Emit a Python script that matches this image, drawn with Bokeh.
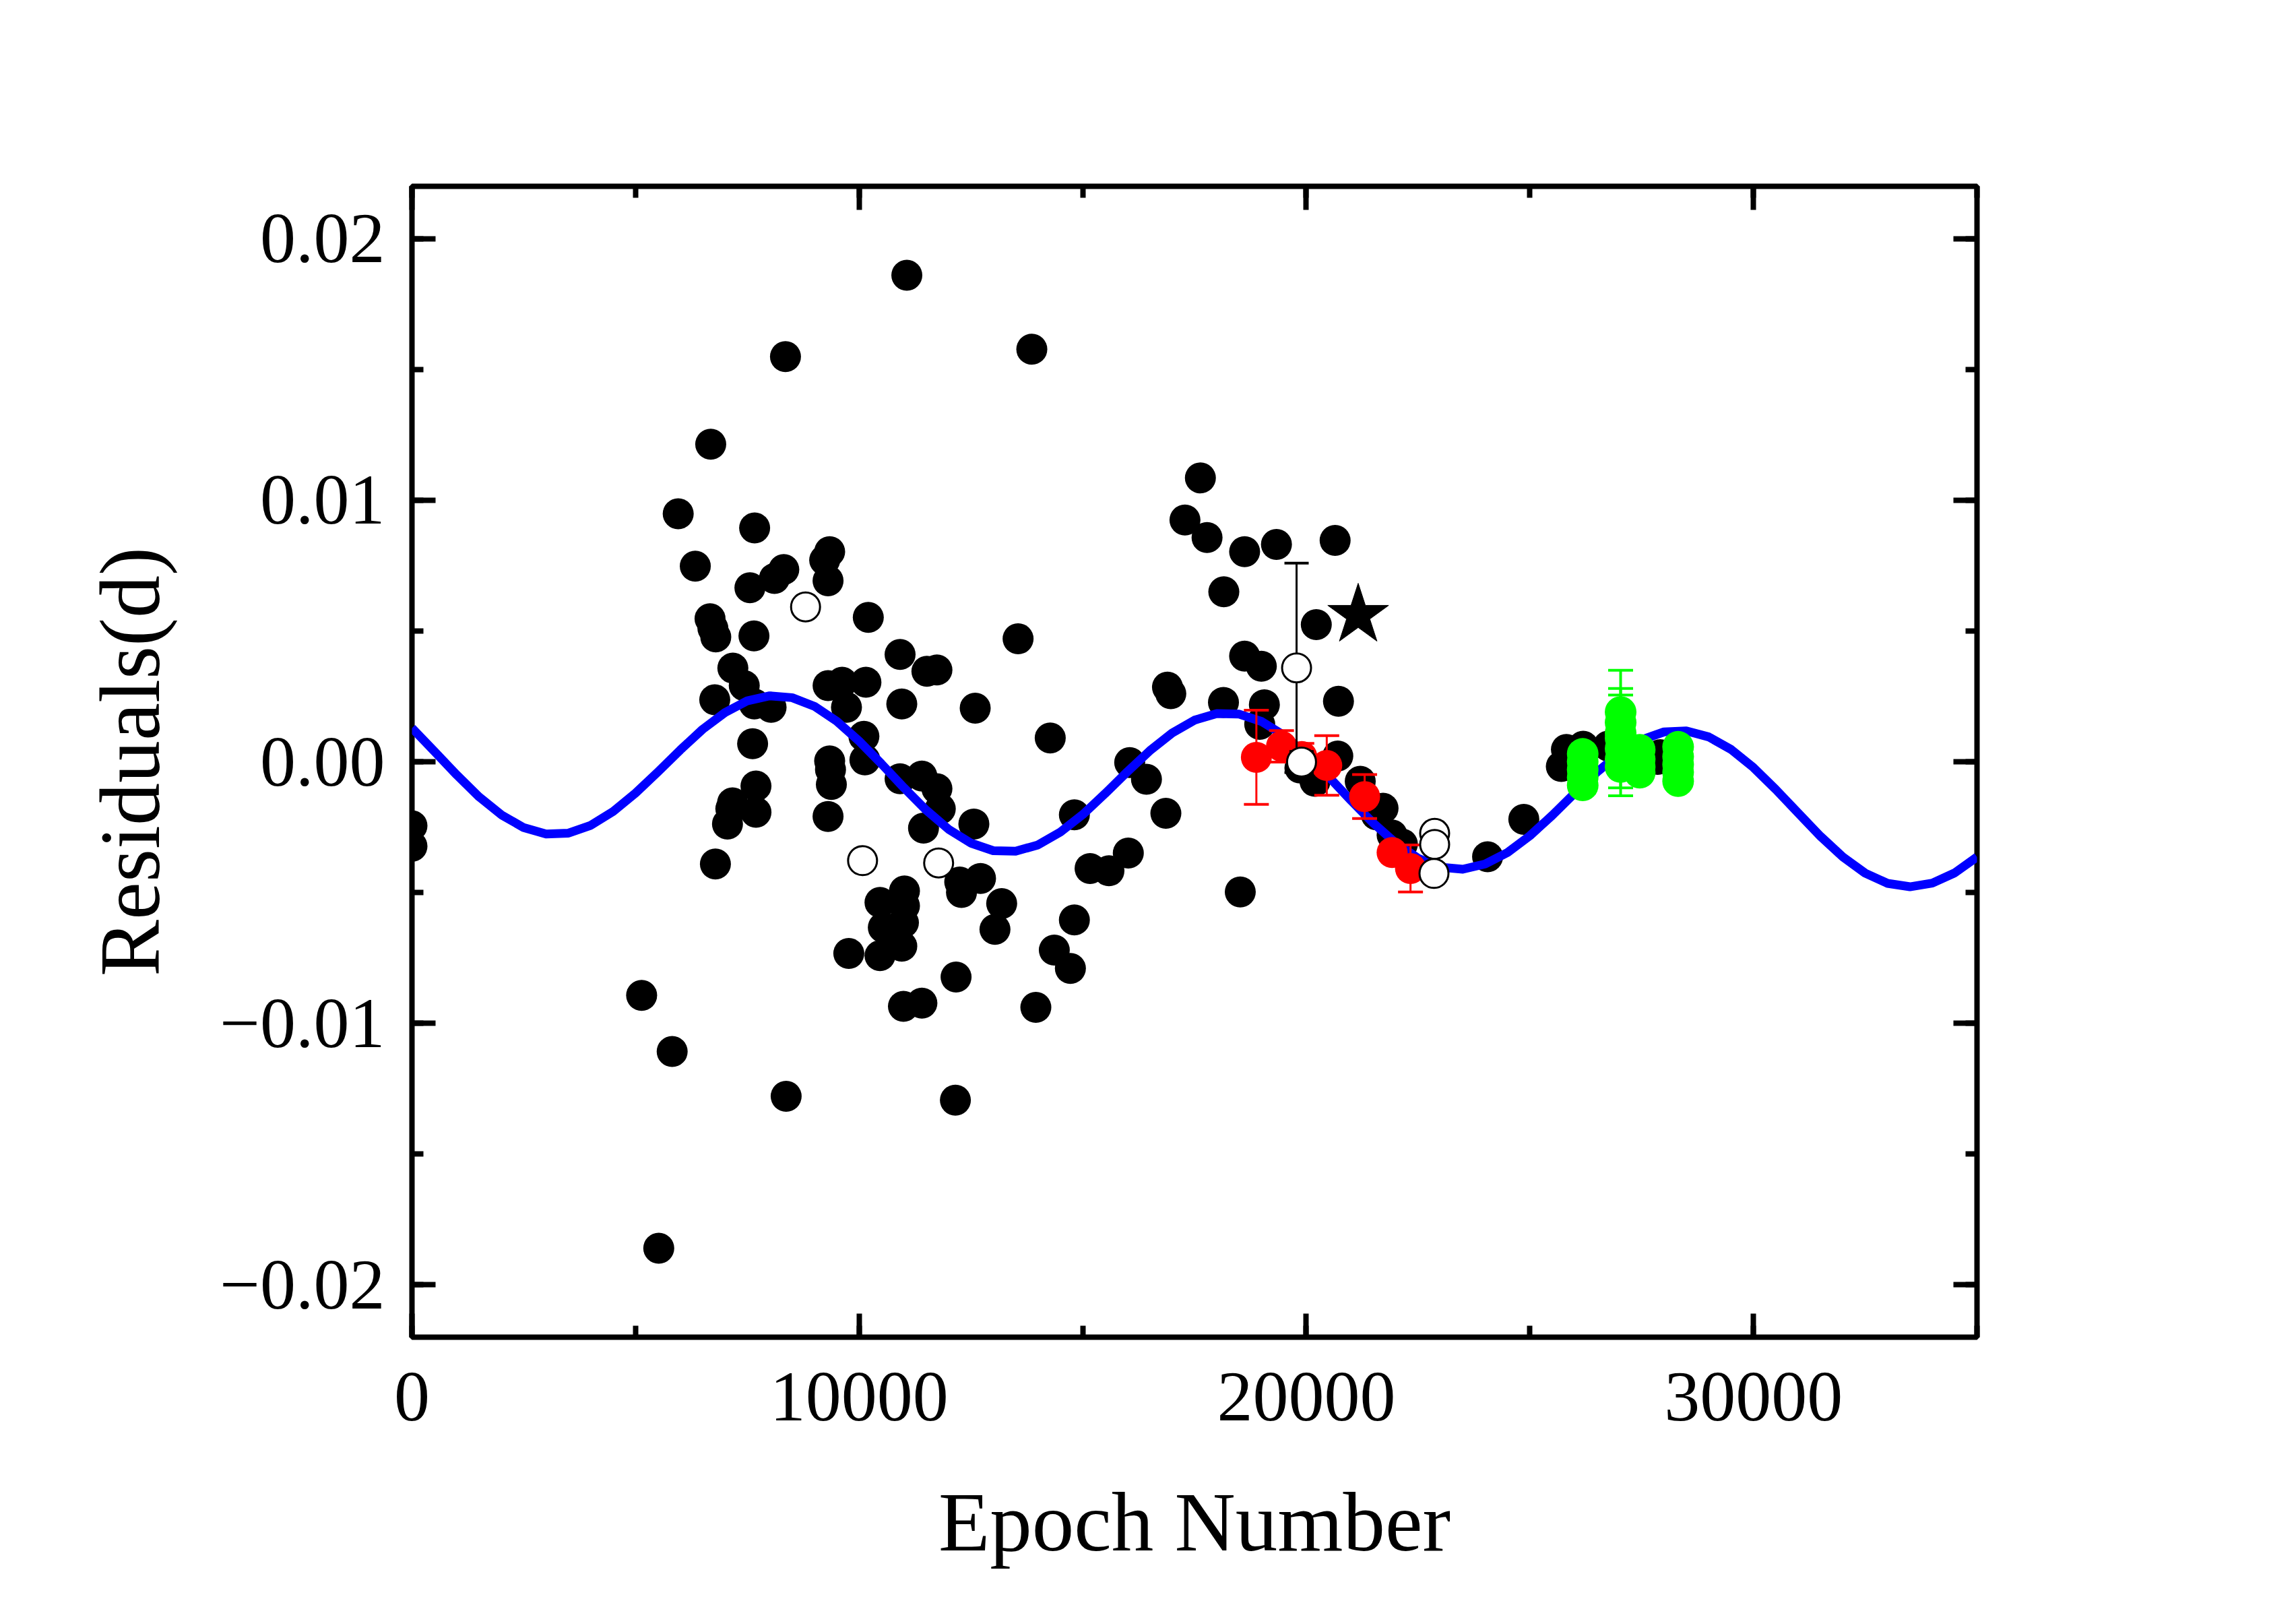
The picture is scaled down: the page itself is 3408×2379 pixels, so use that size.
from bokeh.plotting import figure
from bokeh.models import Range1d, LinearAxis, SingleIntervalTicker, CustomJSTickFormatter, BasicTickFormatter
from bokeh.embed import file_html
from bokeh.resources import INLINE

# ---------------- data ----------------
black_epoch = [0, 0, 5136, 5519, 5819, 5954, 6336, 6681, 6666, 6730, 6794, 6771, 6786,
               7176, 7431, 7169, 7131, 7056, 7558, 7663, 7648, 7656, 7618, 7693, 7693,
               8031, 8106, 8315, 8353, 8368, 9230, 9305, 9341, 9306, 9341, 9360, 9379,
               9305, 9620, 9717, 9769, 10107, 10129, 10152, 10205, 10467, 10541, 10467,
               10916, 10954, 10916, 11014, 11014, 10991, 10954, 10991, 11067, 11404,
               11440, 11404, 11516, 11740, 11740, 11815, 12168, 12153, 12250, 12289,
               12566, 12596, 12715, 13038, 13188, 13555, 13862, 13952, 14274, 14365,
               14725, 14814, 14814, 15165, 15587, 16020, 16051, 16426, 16860, 16896,
               16970, 17287, 17632, 17781, 18156, 18148, 18524, 18621, 18621, 18995,
               19063, 18959, 19333, 19858, 20195, 20224, 20645, 20720, 20705, 21207,
               21567, 21717, 21920, 22150, 24055, 24865, 25704, 25818, 26193, 26754,
               26979, 27859, 27916]
black_resid = [-0.00245, -0.00323, -0.00893, -0.0186, -0.01108, 0.00948, 0.00748, 0.01214,
               0.00547, 0.00510, 0.00477, 0.00237, -0.00391, 0.00358, 0.00291, -0.00157,
               -0.0018, -0.00238, 0.00665, 0.00894, 0.00481, 0.00221, 0.00069, -0.00093,
               -0.00193, 0.00208, 0.00701, 0.00735, 0.01549, -0.01279, 0.00771, 0.00692,
               0.00803, 0.00291, 0.00003, -0.0003, -0.00087, -0.00209, 0.00304, 0.00208,
               -0.00733, 0.00097, 0.00007, 0.00304, 0.00552, -0.00538, -0.00634, -0.00741,
               0.0041, 0.00221, -0.00065, -0.00494, -0.00551, -0.00615, -0.00705, -0.00935,
               0.0186, -0.00055, -0.00254, -0.00923, 0.00346, 0.00351, -0.00103, -0.0018,
               -0.00823, -0.01294, -0.0046, -0.0050, -0.00238, 0.00205, -0.00446, -0.00641,
               -0.00542, 0.0047, 0.01577, -0.00939, 0.00091, -0.0072, -0.0079, -0.00203,
               -0.00605, -0.00408, -0.00417, -0.00349, -0.00003, -0.00067, -0.00197,
               0.00285, 0.0026, 0.00924, 0.01085, 0.00857, 0.0065, 0.00227, -0.00498,
               0.00803, 0.00404, 0.00365, 0.00218, 0.00143, 0.00831, -0.00024, -0.00075,
               0.00524, 0.00846, 0.00231, 0.00022, -0.00075, -0.00203, -0.00178, -0.0028,
               -0.00315, -0.00363, -0.0022, -0.00018, 0.00047, 0.00059, 0.0006, 0.00072,
               0.00009, 0.00027]

red_epoch = [18884, 19446, 19900, 20458, 21305, 21920, 22331]
red_resid = [0.00017, 0.00059, 0.0002, -0.00014, -0.00133, -0.00347, -0.00408]
red_err = [0.0018, 0.0006, 0.0005, 0.00114, 0.00084, 0.0002, 0.0009]

green_epoch = [26182, 26182, 26182, 26182, 26182,
               27030, 27030, 27030, 27030, 27030, 27030, 27030,
               27457, 27457, 27457, 27457,
               28316, 28316, 28316, 28316, 28316]
green_resid = [0.0003, 0.0, -0.0003, -0.0006, -0.0009,
               0.0019, 0.0015, 0.0011, 0.0009, 0.0005, 0.0001, -0.0002,
               0.00046, 0.0001, -0.0002, -0.00042,
               0.00057, 0.0002, -0.0001, -0.0004, -0.00074]
green_err = [0, 0, 0, 0, 0,
             0.00065, 0, 0.0024, 0.0019, 0, 0, 0,
             0, 0, 0, 0,
             0, 0, 0, 0, 0]

open_epoch = [8802, 10077, 11778, 19783, 19894, 22871, 22871, 22856]
open_resid = [0.00592, -0.00378, -0.00387, 0.00359, -0.00001, -0.00274, -0.00316, -0.00427]
open_err = [0, 0, 0, 0.004, 0.0004, 0, 0, 0]

star_epoch = [21161]
star_resid = [0.0056]

fit_epoch = [0, 500, 1000, 1500, 2000, 2500, 3000, 3500, 4000, 4500, 5000, 5500, 6000,
             6500, 7000, 7500, 8000, 8500, 9000, 9500, 10000, 10500, 11000, 11500, 12000,
             12500, 13000, 13500, 14000, 14500, 15000, 15500, 16000, 16500, 17000, 17500,
             18000, 18500, 19000, 19500, 20000, 20500, 21000, 21500, 22000, 22500, 23000,
             23500, 24000, 24500, 25000, 25500, 26000, 26500, 27000, 27500, 28000, 28500,
             29000, 29500, 30000, 30500, 31000, 31500, 32000, 32500, 33000, 33500, 34000,
             34500, 35000]
fit_resid = [0.00129, 0.00040, -0.00050, -0.00134, -0.00203, -0.00252, -0.00276, -0.00273,
             -0.00243, -0.00190, -0.00120, -0.00039, 0.00045, 0.00124, 0.00188, 0.00233,
             0.00252, 0.00245, 0.00212, 0.00155, 0.00079, -0.00008, -0.00099, -0.00185,
             -0.00258, -0.00311, -0.00340, -0.00342, -0.00318, -0.00269, -0.00202, -0.00122,
             -0.00038, 0.00042, 0.00110, 0.00159, 0.00184, 0.00182, 0.00154, 0.00101,
             0.00028, -0.00057, -0.00148, -0.00235, -0.00311, -0.00369, -0.00403, -0.00411,
             -0.00391, -0.00347, -0.00283, -0.00205, -0.00121, -0.00040, 0.00031, 0.00084,
             0.00114, 0.00118, 0.00095, 0.00047, -0.00022, -0.00106, -0.00196, -0.00285,
             -0.00364, -0.00426, -0.00465, -0.00478, -0.00464, -0.00425, -0.00364]

x_major_interval = 10000
y_major_interval = 0.01
x_label = "Epoch Number"
y_label = "Residuals(d)"

# ---------------- figure ----------------
FONT = "Liberation Serif"

p = figure(width=3400, height=2371,
           x_range=Range1d(0, 35000), y_range=Range1d(-0.022, 0.022),
           x_axis_type=None, y_axis_type=None,
           output_backend="svg", toolbar_location=None,
           min_border_left=611, min_border_right=466,
           min_border_top=276, min_border_bottom=387)
p.background_fill_color = "white"
p.border_fill_color = "white"
p.outline_line_color = "black"
p.outline_line_width = 8


def style_axis(ax, show_labels):
    ax.axis_line_color = None
    ax.major_tick_in = 35
    ax.major_tick_out = 0
    ax.minor_tick_in = 17
    ax.minor_tick_out = 0
    ax.major_tick_line_width = 8
    ax.minor_tick_line_width = 8
    ax.major_tick_line_color = "black"
    ax.minor_tick_line_color = "black"
    if show_labels:
        ax.major_label_text_font = FONT
        ax.major_label_text_font_size = "106px"
        ax.major_label_text_color = "black"
        ax.axis_label_text_font = FONT
        ax.axis_label_text_font_style = "normal"
        ax.axis_label_text_color = "black"
    else:
        ax.major_label_text_color = None
        ax.major_label_text_font_size = "1px"
        ax.major_label_standoff = 0


yfmt = CustomJSTickFormatter(code="""
    var s = Math.abs(tick).toFixed(2);
    return (tick < -1e-9 ? '\\u2212' : '') + s;
""")

xb = LinearAxis(ticker=SingleIntervalTicker(interval=x_major_interval, num_minor_ticks=2),
                formatter=BasicTickFormatter(use_scientific=False), axis_label=x_label)
style_axis(xb, True)
xb.axis_label_text_font_size = "125px"
xb.major_label_standoff = 53
xb.axis_label_standoff = 79
p.add_layout(xb, "below")

xt = LinearAxis(ticker=SingleIntervalTicker(interval=x_major_interval, num_minor_ticks=2))
style_axis(xt, False)
p.add_layout(xt, "above")

yl = LinearAxis(ticker=SingleIntervalTicker(interval=y_major_interval, num_minor_ticks=2),
                formatter=yfmt, axis_label=y_label)
style_axis(yl, True)
yl.axis_label_text_font_size = "126px"
yl.major_label_standoff = 40
yl.axis_label_standoff = 60
p.add_layout(yl, "left")

yr = LinearAxis(ticker=SingleIntervalTicker(interval=y_major_interval, num_minor_ticks=2))
style_axis(yr, False)
p.add_layout(yr, "right")

# black filled points
p.scatter(black_epoch, black_resid, size=46, fill_color="black", line_color="black", line_width=0)

# fitted curve
p.line(fit_epoch, fit_resid, line_color="#0000FF", line_width=13, line_join="round")

# red points with error bars
RED = "#FF0000"
red_lo = [r - e for r, e in zip(red_resid, red_err)]
red_hi = [r + e for r, e in zip(red_resid, red_err)]
p.segment(red_epoch, red_lo, red_epoch, red_hi, line_color=RED, line_width=3)
p.scatter(red_epoch + red_epoch, red_lo + red_hi, marker="dash", size=37,
          line_color=RED, line_width=4)
p.scatter(red_epoch, red_resid, size=46, fill_color=RED, line_color=RED, line_width=0)

# green points with error bars
GREEN = "#00FF00"
ge = [e for e, s in zip(green_epoch, green_err) if s > 0]
gr = [r for r, s in zip(green_resid, green_err) if s > 0]
gs = [s for s in green_err if s > 0]
g_lo = [r - s for r, s in zip(gr, gs)]
g_hi = [r + s for r, s in zip(gr, gs)]
p.segment(ge, g_lo, ge, g_hi, line_color=GREEN, line_width=4)
p.scatter(ge + ge, g_lo + g_hi, marker="dash", size=37, line_color=GREEN, line_width=4)
p.scatter(green_epoch, green_resid, size=47, fill_color=GREEN, line_color=GREEN, line_width=0)

# open circles with error bars
oe = [e for e, s in zip(open_epoch, open_err) if s > 0]
orr = [r for r, s in zip(open_resid, open_err) if s > 0]
os_ = [s for s in open_err if s > 0]
o_lo = [r - s for r, s in zip(orr, os_)]
o_hi = [r + s for r, s in zip(orr, os_)]
p.segment(oe, o_lo, oe, o_hi, line_color="black", line_width=3)
p.scatter(oe + oe, o_lo + o_hi, marker="dash", size=36, line_color="black", line_width=4)
p.scatter(open_epoch, open_resid, size=43, fill_color="white", line_color="black", line_width=3)

# star
p.scatter(star_epoch, star_resid, marker="star", size=95, fill_color="black", line_color="black")

open("out.html", "w").write(file_html(p, INLINE))
